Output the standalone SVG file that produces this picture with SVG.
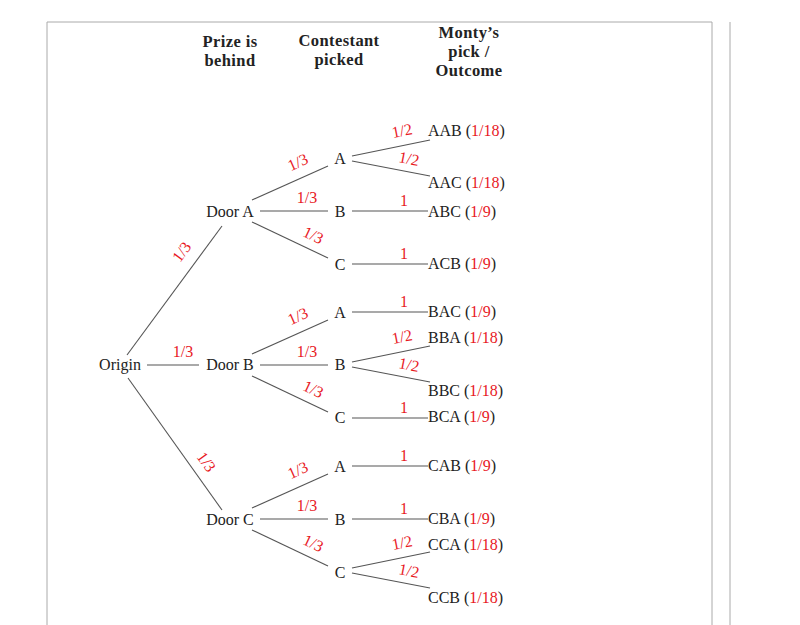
<svg xmlns="http://www.w3.org/2000/svg" width="800" height="625" viewBox="0 0 800 625">
<style>
text{font-family:"Liberation Serif","DejaVu Serif",serif;font-size:16px;fill:#222}
.h{font-weight:bold;text-anchor:middle;font-size:16.5px;letter-spacing:0.4px}
.c{text-anchor:middle}
.r{fill:#e8191f}
.e line{stroke:#555;stroke-width:1.1}
</style>
<rect width="800" height="625" fill="#fff"/>
<path d="M47 625V22H712V625M730 22V625" fill="none" stroke="#aaa" stroke-width="1"/>
<g id="headers">
<text class="h" x="230" y="47">Prize is</text><text class="h" x="230" y="66">behind</text>
<text class="h" x="339" y="46">Contestant</text><text class="h" x="339" y="65">picked</text>
<text class="h" x="469" y="38">Monty’s</text><text class="h" x="469" y="57">pick /</text><text class="h" x="469" y="76">Outcome</text>
</g>
<g class="e" id="connectors">
<line x1="127" y1="355" x2="222" y2="226"/><line x1="147" y1="365" x2="199" y2="365"/><line x1="128" y1="378" x2="222" y2="510"/>
<g transform="translate(0,0)"><line x1="252" y1="200" x2="328" y2="166"/><line x1="260" y1="211" x2="328" y2="211"/><line x1="252" y1="222" x2="328" y2="258"/>
<line x1="352" y1="156" x2="430" y2="140"/><line x1="352" y1="161" x2="430" y2="176"/><line x1="352" y1="211" x2="428" y2="211"/><line x1="352" y1="264" x2="428" y2="264"/></g>
<g transform="translate(0,154)"><line x1="252" y1="200" x2="328" y2="166"/><line x1="260" y1="211" x2="328" y2="211"/><line x1="252" y1="222" x2="328" y2="258"/>
<line x1="352" y1="158" x2="428" y2="158"/><line x1="352" y1="208" x2="430" y2="192"/><line x1="352" y1="213" x2="430" y2="228"/><line x1="352" y1="264" x2="428" y2="264"/></g>
<g transform="translate(0,308)"><line x1="252" y1="200" x2="328" y2="166"/><line x1="260" y1="211" x2="328" y2="211"/><line x1="252" y1="222" x2="328" y2="258"/>
<line x1="352" y1="158" x2="428" y2="158"/><line x1="352" y1="211" x2="428" y2="211"/><line x1="352" y1="260" x2="430" y2="244"/><line x1="352" y1="265" x2="430" y2="280"/></g>
</g>
<g id="edge-labels">
<text class="r c" transform="translate(186,255) rotate(-54)">1/3</text>
<text class="r c" x="183" y="357">1/3</text>
<text class="r c" transform="translate(202,465) rotate(54)">1/3</text>
<g transform="translate(0,0)"><text class="r c" transform="translate(300,167) rotate(-24)">1/3</text><text class="r c" x="307" y="203">1/3</text><text class="r c" transform="translate(311,240) rotate(25)">1/3</text>
<text class="r c" transform="translate(403,136) rotate(-11)">1/2</text><text class="r c" transform="translate(408,164) rotate(11)">1/2</text><text class="r c" x="404" y="206">1</text><text class="r c" x="404" y="259">1</text></g>
<g transform="translate(0,154)"><text class="r c" transform="translate(300,167) rotate(-24)">1/3</text><text class="r c" x="307" y="203">1/3</text><text class="r c" transform="translate(311,240) rotate(25)">1/3</text>
<text class="r c" x="404" y="153">1</text><text class="r c" transform="translate(403,188) rotate(-11)">1/2</text><text class="r c" transform="translate(408,216) rotate(11)">1/2</text><text class="r c" x="404" y="259">1</text></g>
<g transform="translate(0,308)"><text class="r c" transform="translate(300,167) rotate(-24)">1/3</text><text class="r c" x="307" y="203">1/3</text><text class="r c" transform="translate(311,240) rotate(25)">1/3</text>
<text class="r c" x="404" y="153">1</text><text class="r c" x="404" y="206">1</text><text class="r c" transform="translate(403,240) rotate(-11)">1/2</text><text class="r c" transform="translate(408,268) rotate(11)">1/2</text></g>
</g>
<g id="origin"><text class="c" x="120" y="370">Origin</text></g>
<g id="doorA"><text class="c" x="230" y="217">Door A</text></g>
<g id="doorB"><text class="c" x="230" y="370">Door B</text></g>
<g id="doorC"><text class="c" x="230" y="525">Door C</text></g>
<g id="AA"><text class="c" x="340" y="164">A</text></g>
<g id="AB"><text class="c" x="340" y="217">B</text></g>
<g id="AC"><text class="c" x="340" y="270">C</text></g>
<g id="BA"><text class="c" x="340" y="318">A</text></g>
<g id="BB"><text class="c" x="340" y="370">B</text></g>
<g id="BC"><text class="c" x="340" y="423">C</text></g>
<g id="CA"><text class="c" x="340" y="472">A</text></g>
<g id="CB"><text class="c" x="340" y="525">B</text></g>
<g id="CC"><text class="c" x="340" y="578">C</text></g>
<g id="AAB"><text x="428" y="136">AAB (<tspan class="r">1/18</tspan>)</text></g>
<g id="AAC"><text x="428" y="188">AAC (<tspan class="r">1/18</tspan>)</text></g>
<g id="ABC"><text x="428" y="217">ABC (<tspan class="r">1/9</tspan>)</text></g>
<g id="ACB"><text x="428" y="269">ACB (<tspan class="r">1/9</tspan>)</text></g>
<g id="BAC"><text x="428" y="317">BAC (<tspan class="r">1/9</tspan>)</text></g>
<g id="BBA"><text x="428" y="343">BBA (<tspan class="r">1/18</tspan>)</text></g>
<g id="BBC"><text x="428" y="396">BBC (<tspan class="r">1/18</tspan>)</text></g>
<g id="BCA"><text x="428" y="422">BCA (<tspan class="r">1/9</tspan>)</text></g>
<g id="CAB"><text x="428" y="471">CAB (<tspan class="r">1/9</tspan>)</text></g>
<g id="CBA"><text x="428" y="524">CBA (<tspan class="r">1/9</tspan>)</text></g>
<g id="CCA"><text x="428" y="550">CCA (<tspan class="r">1/18</tspan>)</text></g>
<g id="CCB"><text x="428" y="603">CCB (<tspan class="r">1/18</tspan>)</text></g>
</svg>
